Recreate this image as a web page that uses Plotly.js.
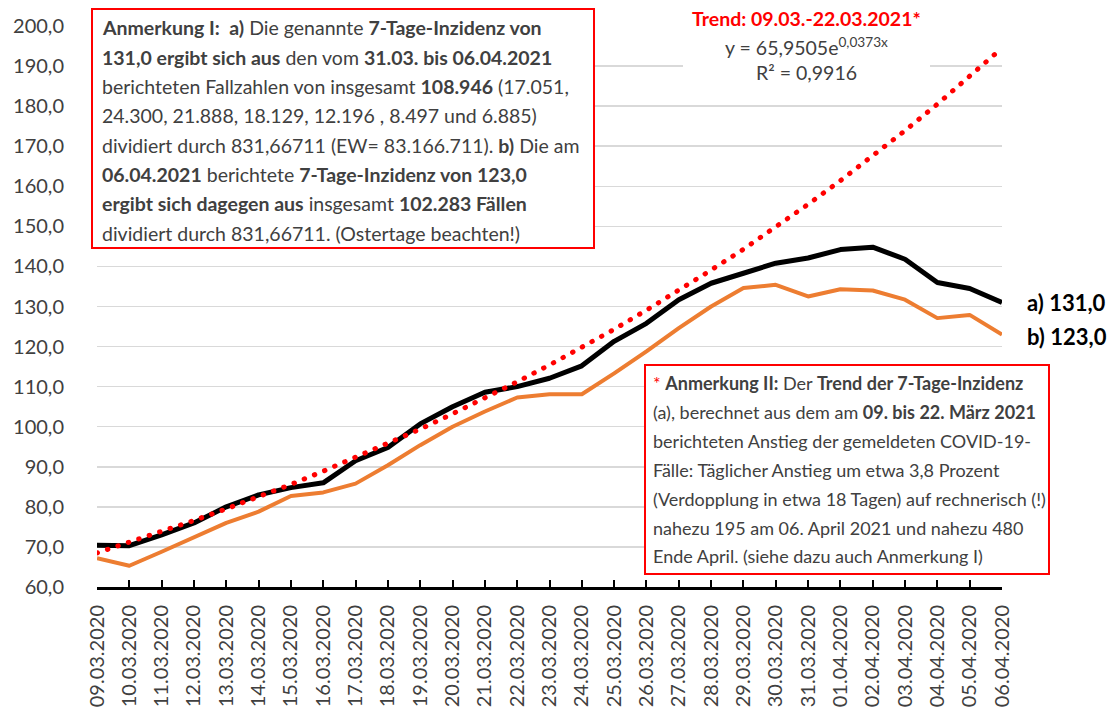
<!DOCTYPE html>
<html>
<head>
<meta charset="utf-8">
<script src="https://cdn.plot.ly/plotly-3.0.1.min.js"></script>
<style>
  html, body { margin: 0; padding: 0; background: #fff; }
  #chart { width: 1115px; height: 713px; }
  .scatterlayer .js-line { stroke-linejoin: round; }
  .scatterlayer .trace:last-child .js-line { stroke-linecap: round; }
</style>
</head>
<body>
<div id="chart"></div>
<script>
// ---- data ----
const dates = ['09.03.2020','10.03.2020','11.03.2020','12.03.2020','13.03.2020','14.03.2020','15.03.2020',
  '16.03.2020','17.03.2020','18.03.2020','19.03.2020','20.03.2020','21.03.2020','22.03.2020','23.03.2020',
  '24.03.2020','25.03.2020','26.03.2020','27.03.2020','28.03.2020','29.03.2020','30.03.2020','31.03.2020',
  '01.04.2020','02.04.2020','03.04.2020','04.04.2020','05.04.2020','06.04.2020'];

// a) 7-Tage-Inzidenz (black)
const incidenceA = [70.4, 70.3, 73.0, 76.0, 80.0, 83.0, 84.8, 86.0, 91.5, 94.8, 100.7, 105.0, 108.6, 110.0, 112.1,
  115.2, 121.3, 125.8, 131.7, 135.8, 138.3, 140.8, 142.1, 144.2, 144.8, 141.8, 136.0, 134.5, 131.0];

// b) 7-Tage-Inzidenz (orange)
const incidenceB = [67.2, 65.3, 68.8, 72.3, 76.0, 78.8, 82.7, 83.6, 85.8, 90.4, 95.4, 100.0, 103.8, 107.3, 108.1,
  108.1, 113.3, 118.8, 124.6, 130.0, 134.6, 135.4, 132.5, 134.3, 134.0, 131.7, 127.1, 127.9, 123.0];

// Trend (red dotted)
const trend = [68.5, 71.1, 73.8, 76.6, 79.5, 82.5, 85.6, 88.9, 92.3, 95.8, 99.4, 103.2, 107.1, 111.2, 115.4,
  119.8, 124.3, 129.1, 134.0, 139.1, 144.3, 149.8, 155.5, 161.4, 167.6, 173.9, 180.5, 187.4, 194.5];

const yTicks = [60, 70, 80, 90, 100, 110, 120, 130, 140, 150, 160, 170, 180, 190, 200];
const endLabels = ['<b>a) 131,0</b>', '<b>b) 123,0</b>'];

const trendTitle = '<b>Trend: 09.03.-22.03.2021*</b>';
const trendEq = 'y = 65,9505e<sup>0,0373x</sup>';
const trendR2 = 'R² = 0,9916';

const note1 = [
  '<b>Anmerkung I:  a)</b> Die genannte <b>7-Tage-Inzidenz von</b>',
  '<b>131,0 ergibt sich aus</b> den vom <b>31.03. bis 06.04.2021</b>',
  'berichteten Fallzahlen von insgesamt <b>108.946</b> (17.051,',
  '24.300, 21.888, 18.129, 12.196 , 8.497 und 6.885)',
  'dividiert durch 831,66711 (EW= 83.166.711). <b>b)</b> Die am',
  '<b>06.04.2021</b> berichtete <b>7-Tage-Inzidenz von 123,0</b>',
  '<b>ergibt sich dagegen aus</b> insgesamt <b>102.283 Fällen</b>',
  'dividiert durch 831,66711. (Ostertage beachten!)'
];
const note2 = [
  '<span style="color:#ff0000">*</span> <b>Anmerkung II:</b> Der <b>Trend der 7-Tage-Inzidenz</b>',
  '(a), berechnet aus dem am <b>09. bis 22. März 2021</b>',
  'berichteten Anstieg der gemeldeten COVID-19-',
  'Fälle: Täglicher Anstieg um etwa 3,8 Prozent',
  '(Verdopplung in etwa 18 Tagen) auf rechnerisch (!)',
  'nahezu 195 am 06. April 2021 und nahezu 480',
  'Ende April. (siehe dazu auch Anmerkung I)'
];

// ---- layout helpers (pixel -> paper) ----
const M = {l: 97, r: 113, t: 26, b: 126};
const W = 1115, H = 713;
const PW = W - M.l - M.r, PH = H - M.t - M.b;
const xp = px => (px - M.l) / PW;
const yp = py => (H - M.b - py) / PH;

const FONT = 'Lato, "Open Sans", sans-serif';
const TXT = '#404040';

const traces = [
  {x: dates, y: incidenceB, type: 'scatter', mode: 'lines', line: {color: '#ED7D31', width: 4}, hoverinfo: 'skip'},
  {x: dates, y: incidenceA, type: 'scatter', mode: 'lines', line: {color: '#000000', width: 5}, hoverinfo: 'skip'},
  {x: dates, y: trend, type: 'scatter', mode: 'lines', line: {color: '#FF0000', width: 5, dash: '0.5px,10.5px'}, hoverinfo: 'skip'}
];

const annotations = [];
note1.forEach((t, i) => annotations.push({
  xref: 'paper', yref: 'paper', x: xp(100), y: yp(28 + i * 29.3), xanchor: 'left', yanchor: 'middle',
  text: t, showarrow: false, align: 'left', font: {family: FONT, size: 19.5, color: TXT}
}));
note2.forEach((t, i) => annotations.push({
  xref: 'paper', yref: 'paper', x: xp(651), y: yp(383 + i * 28.9), xanchor: 'left', yanchor: 'middle',
  text: t, showarrow: false, align: 'left', font: {family: FONT, size: 18, color: TXT}
}));
annotations.push({xref: 'paper', yref: 'paper', x: xp(806), y: yp(18), xanchor: 'center', yanchor: 'middle',
  text: trendTitle, showarrow: false, font: {family: FONT, size: 19.5, color: '#FF0000'}});
annotations.push({xref: 'paper', yref: 'paper', x: xp(806), y: yp(46), xanchor: 'center', yanchor: 'middle',
  text: trendEq, showarrow: false, font: {family: FONT, size: 19.5, color: TXT}});
annotations.push({xref: 'paper', yref: 'paper', x: xp(806), y: yp(72), xanchor: 'center', yanchor: 'middle',
  text: trendR2, showarrow: false, font: {family: FONT, size: 19.5, color: TXT}});
annotations.push({xref: 'paper', yref: 'y', x: xp(1025), y: incidenceA[incidenceA.length - 1], xanchor: 'left', yanchor: 'middle',
  text: endLabels[0], showarrow: false, font: {family: FONT, size: 22, color: '#000'}});
annotations.push({xref: 'paper', yref: 'y', x: xp(1025), y: incidenceB[incidenceB.length - 1] - 0.5, xanchor: 'left', yanchor: 'middle',
  text: endLabels[1], showarrow: false, font: {family: FONT, size: 22, color: '#000'}});

const shapes = [
  {type: 'rect', xref: 'paper', yref: 'paper', x0: xp(683), x1: xp(930), y0: yp(84), y1: yp(4),
   fillcolor: '#fff', line: {width: 0}, layer: 'above'},
  {type: 'rect', xref: 'paper', yref: 'paper', x0: xp(92), x1: xp(594), y0: yp(248), y1: yp(9),
   fillcolor: '#fff', line: {color: '#FF0000', width: 2}, layer: 'above'},
  {type: 'rect', xref: 'paper', yref: 'paper', x0: xp(645), x1: xp(1049), y0: yp(574), y1: yp(365),
   fillcolor: '#fff', line: {color: '#FF0000', width: 2}, layer: 'above'}
];

const layout = {
  width: W, height: H,
  margin: {l: M.l, r: M.r, t: M.t, b: M.b, autoexpand: false},
  paper_bgcolor: '#fff', plot_bgcolor: '#fff',
  showlegend: false,
  separators: ',.',
  font: {family: FONT, color: TXT},
  xaxis: {
    type: 'category', range: [0, dates.length - 1], tickangle: -90,
    showgrid: false, zeroline: false,
    showline: true, linecolor: '#000', linewidth: 3,
    ticks: 'inside', ticklen: 7, tickwidth: 2, tickcolor: '#000',
    tickfont: {family: FONT, size: 20, color: TXT},
    ticklabelstandoff: 7
  },
  yaxis: {
    range: [60, 200], tickvals: yTicks, tickformat: '.1f',
    showgrid: true, gridcolor: '#D9D9D9', gridwidth: 1.5,
    zeroline: false, showline: false, ticks: '',
    tickfont: {family: FONT, size: 20, color: TXT},
    ticklabelstandoff: 32
  },
  annotations: annotations,
  shapes: shapes,
  hovermode: false
};

Plotly.newPlot('chart', traces, layout, {displayModeBar: false, staticPlot: true});
</script>
</body>
</html>
